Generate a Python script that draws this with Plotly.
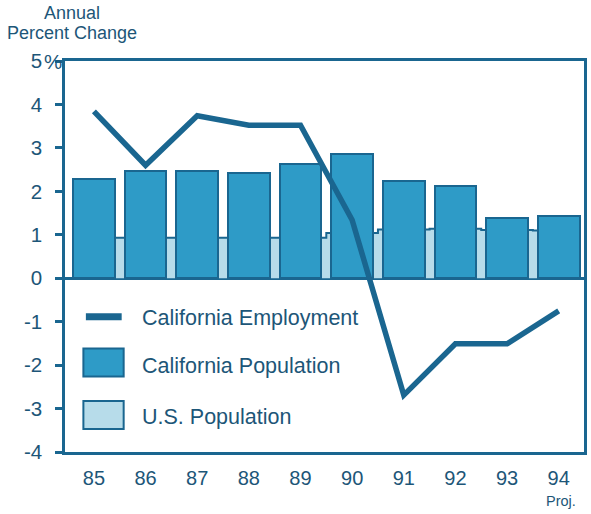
import plotly.graph_objects as go

# Annual percent change, 1985-1994 (1994 projected)
years = ["85", "86", "87", "88", "89", "90", "91", "92", "93", "94"]
ca_employment = [3.84, 2.6, 3.74, 3.52, 3.52, 1.34, -2.69, -1.51, -1.51, -0.75]
ca_population = [2.28, 2.47, 2.46, 2.43, 2.63, 2.86, 2.23, 2.13, 1.38, 1.44]
us_population = [0.93, 0.93, 0.93, 0.93, 0.93, 1.04, 1.12, 1.14, 1.11, 1.1]

y_ticks = [-4, -3, -2, -1, 0, 1, 2, 3, 4, 5]
y_tick_text = ["-4", "-3", "-2", "-1", "0", "1", "2", "3", "4", "5"]

DARK = "#1a6690"
TEXT = "#1d5678"
CA_FILL = "#2e9bc7"
US_FILL = "#b7dcea"
FONT = "Liberation Sans, Arial, sans-serif"

W, H = 591, 514
L, R, T, B = 65, 4, 61, 62
PW, PH = W - L - R, H - T - B
Y_RANGE = [-4, 5]


def px(x):
    return (x - L) / PW


def py(y):
    return (H - B - y) / PH


xs = list(range(len(years)))
fig = go.Figure()

# U.S. population: stepped band on the base axis, behind everything else
fig.add_trace(go.Scatter(
    x=xs, y=us_population, mode="lines", line_shape="hvh",
    line=dict(color=DARK, width=2), fill="tozeroy", fillcolor=US_FILL,
    name="U.S. Population", showlegend=False, yaxis="y",
))
# California series on an overlaying axis with the same scale
fig.add_trace(go.Bar(
    x=xs, y=ca_population, width=0.81,
    marker=dict(color=CA_FILL, line=dict(color=DARK, width=2)),
    name="California Population", showlegend=False, yaxis="y2",
))
fig.add_trace(go.Scatter(
    x=xs, y=ca_employment, mode="lines",
    line=dict(color=DARK, width=5.5),
    name="California Employment", showlegend=False, yaxis="y2",
))

shapes = [
    # legend swatches
    dict(type="line", xref="paper", yref="paper",
         x0=px(86), x1=px(122), y0=py(316.7), y1=py(316.7),
         line=dict(color=DARK, width=7)),
    dict(type="rect", xref="paper", yref="paper",
         x0=px(83.5), x1=px(124), y0=py(348.5), y1=py(376.5),
         fillcolor=CA_FILL, line=dict(color=DARK, width=2)),
    dict(type="rect", xref="paper", yref="paper",
         x0=px(83.5), x1=px(124), y0=py(401), y1=py(429),
         fillcolor=US_FILL, line=dict(color=DARK, width=2)),
]

annotations = [
    dict(text="Annual", x=px(72), y=py(13), xref="paper", yref="paper",
         xanchor="center", yanchor="middle", showarrow=False,
         font=dict(size=18, color=TEXT, family=FONT)),
    dict(text="Percent Change", x=px(72), y=py(33), xref="paper", yref="paper",
         xanchor="center", yanchor="middle", showarrow=False,
         font=dict(size=18, color=TEXT, family=FONT)),
    dict(text="%", x=px(42), y=5, xref="paper", yref="y",
         xanchor="left", yanchor="middle", showarrow=False,
         font=dict(size=20.5, color=TEXT, family=FONT)),
    dict(text="Proj.", x=px(564), y=py(501), xref="paper", yref="paper",
         xanchor="center", yanchor="middle", showarrow=False,
         font=dict(size=14.5, color=TEXT, family=FONT)),
]
for label, ypix in [("California Employment", 318),
                    ("California Population", 366),
                    ("U.S. Population", 417)]:
    annotations.append(dict(
        text=label, x=px(140), y=py(ypix), xref="paper", yref="paper",
        xanchor="left", yanchor="middle", showarrow=False,
        font=dict(size=21.5, color=TEXT, family=FONT)))

fig.update_layout(
    width=W, height=H,
    margin=dict(l=L, r=R, t=T, b=B),
    paper_bgcolor="white", plot_bgcolor="white",
    barmode="overlay", bargap=0,
    showlegend=False,
    shapes=shapes, annotations=annotations,
    font=dict(family=FONT, color=TEXT),
    yaxis2=dict(overlaying="y", range=Y_RANGE, visible=False,
                showgrid=False, zeroline=False),
)
fig.update_xaxes(
    range=[-0.56, 9.49],
    tickvals=xs, ticktext=years,
    showgrid=False, zeroline=False,
    showline=True, linecolor=DARK, linewidth=2.5, mirror=True,
    ticks="", ticklabelstandoff=6,
    tickfont=dict(size=20, color=TEXT, family=FONT),
)
fig.update_layout(yaxis=dict(
    range=Y_RANGE,
    tickvals=y_ticks, ticktext=y_tick_text,
    showgrid=False,
    zeroline=True, zerolinecolor=DARK, zerolinewidth=2.5,
    showline=True, linecolor=DARK, linewidth=2.5, mirror=True,
    ticks="outside", ticklen=7, tickwidth=2.5, tickcolor=DARK,
    ticklabelstandoff=9,
    tickfont=dict(size=20.5, color=TEXT, family=FONT),
))

fig.write_html("out.html")
